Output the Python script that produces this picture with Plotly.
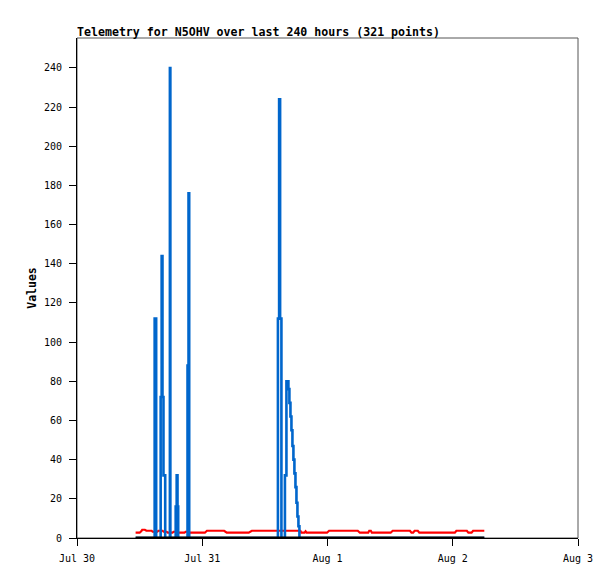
import pandas as pd
import plotly.graph_objects as go

BASE = pd.Timestamp("2025-07-30 00:00")

# Blue series: hours since Jul 30 00:00, values (step line)
blue_hours = [11.23, 14.88, 15.17, 16.03, 16.22, 16.38, 16.57, 16.90, 17.80, 17.89,
              18.91, 19.10, 19.26, 19.39, 21.18, 21.37, 21.50,
              38.50, 38.73, 38.92, 39.17, 39.84, 40.13, 40.51, 40.70, 40.90, 41.09,
              41.28, 41.47, 41.66, 41.86, 42.05, 42.24, 42.43, 42.62, 78.05]
blue_vals = [0, 112, 0, 72, 144, 72, 32, 0, 240, 0,
             16, 32, 16, 0, 88, 176, 0,
             112, 224, 112, 0, 32, 80, 76, 69, 62, 55,
             47, 40, 33, 26, 18, 11, 6, 0, 0]

# Red series
red_hours = [11.23, 12.0, 12.3, 12.5, 13.0, 13.3, 14.3, 14.5, 15.4, 15.6, 16.4, 16.6,
             17.2, 17.4, 18.3, 18.5, 18.9, 19.1, 20.6, 20.8, 21.2, 21.4, 24.5, 24.9,
             28.2, 28.7, 32.9, 33.5, 42.8, 43.0, 43.6, 43.8, 44.0, 47.9, 48.3, 53.8,
             54.2, 55.8, 56.0, 56.3, 56.5, 60.1, 60.5, 63.8, 64.1, 64.4, 64.7, 65.3,
             65.6, 72.4, 72.7, 74.7, 75.0, 75.6, 75.9, 78.05]
red_vals = [2.7, 2.7, 3.4, 4.2, 4.2, 3.7, 3.7, 3.2, 3.2, 3.7, 3.7, 3.2,
            3.2, 2.7, 2.7, 3.2, 3.2, 2.7, 2.7, 3.2, 3.2, 2.7, 2.7, 3.7,
            3.7, 2.7, 2.7, 3.7, 3.7, 2.7, 2.7, 3.4, 2.7, 2.7, 3.7, 3.7,
            2.7, 2.7, 3.7, 3.7, 2.7, 2.7, 3.7, 3.7, 2.7, 2.7, 3.7, 3.7,
            2.7, 2.7, 3.7, 3.7, 2.7, 2.7, 3.7, 3.7]

# Black series (zero)
black_hours = [11.23, 78.05]
black_vals = [0, 0]

tick_days = ["2025-07-30", "2025-07-31", "2025-08-01", "2025-08-02", "2025-08-03"]
tick_text = ["Jul 30", "Jul 31", "Aug 1", "Aug 2", "Aug 3"]
y_ticks = [0, 20, 40, 60, 80, 100, 120, 140, 160, 180, 200, 220, 240]


def to_time(hours):
    return [BASE + pd.Timedelta(hours=h) for h in hours]


MONO = "DejaVu Sans Mono"

fig = go.Figure()
fig.add_trace(go.Scatter(x=to_time(red_hours), y=red_vals, mode="lines",
                         line=dict(color="#ff0000", width=2.2), showlegend=False))
fig.add_trace(go.Scatter(x=to_time(blue_hours), y=blue_vals, mode="lines",
                         line=dict(color="#0066cc", width=2.6, shape="hv"), showlegend=False))
fig.add_trace(go.Scatter(x=to_time(black_hours), y=black_vals, mode="lines",
                         line=dict(color="#000000", width=3), showlegend=False))

# page body has an 8px margin, so the figure is sized/margined to land the plot
# area at the reference position in the 615x579 window
fig.update_layout(
    width=607, height=571,
    margin=dict(l=69, r=37, t=30, b=41),
    paper_bgcolor="white", plot_bgcolor="white",
    title=dict(text="<b>Telemetry for N5OHV over last 240 hours (321 points)</b>",
               font=dict(family=MONO, size=11.6, color="black"),
               xref="paper", x=0, xanchor="left",
               yref="paper", y=1, yanchor="bottom", pad=dict(b=2, l=0)),
    font=dict(family=MONO, size=10, color="black"),
    shapes=[dict(type="rect", xref="paper", yref="paper", x0=0, x1=1, y0=0, y1=1,
                 line=dict(color="#555555", width=1), layer="below")],
)
fig.update_xaxes(
    range=[pd.Timestamp(tick_days[0]), pd.Timestamp(tick_days[-1])],
    tickvals=[pd.Timestamp(d) for d in tick_days], ticktext=tick_text,
    ticks="outside", ticklen=7, tickcolor="black", showgrid=False, zeroline=False,
    showline=True, linecolor="black", linewidth=1, ticklabelstandoff=4,
    tickfont=dict(family=MONO, size=10, color="black"),
)
fig.update_yaxes(
    range=[0, 255.3], tickvals=y_ticks,
    ticks="outside", ticklen=7, tickcolor="black", showgrid=False, zeroline=False,
    showline=True, linecolor="black", linewidth=1, ticklabelstandoff=5,
    tickfont=dict(family=MONO, size=10, color="black"),
    title=dict(text="<b>Values</b>", font=dict(family=MONO, size=11.5, color="black"),
               standoff=4),
)

fig.write_html("out.html")
